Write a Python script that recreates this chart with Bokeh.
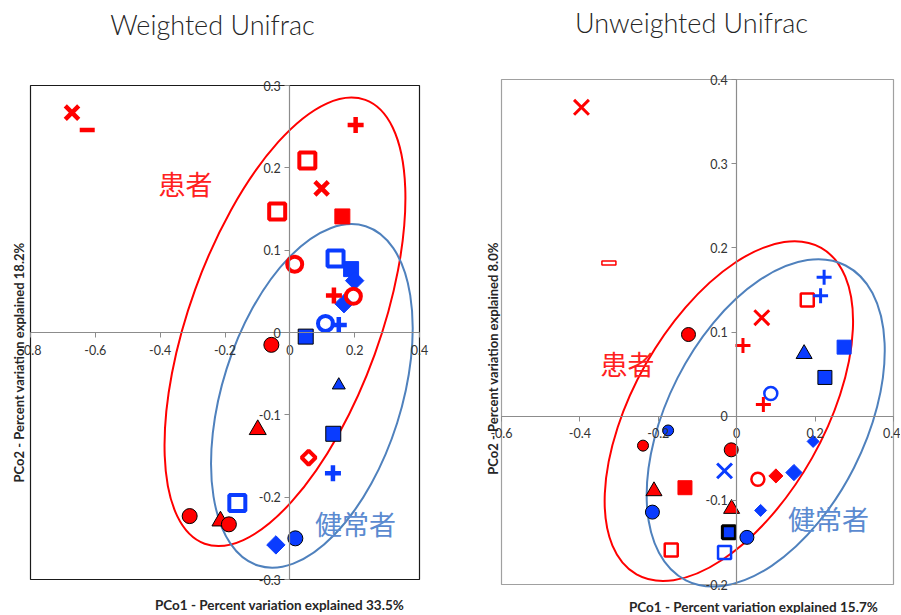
from math import pi
from bokeh.plotting import figure
from bokeh.layouts import row
from bokeh.models import (ColumnDataSource, Label, FixedTicker, LinearAxis,
                          Range1d, CustomJSTickFormatter)
from bokeh.embed import file_html
from bokeh.resources import INLINE

# ---------------- data: Weighted Unifrac ----------------
W_TITLE = "Weighted Unifrac"
W_XLABEL = "PCo1 - Percent variation explained 33.5%"
W_YLABEL = "PCo2 - Percent variation explained 18.2%"
W_XTICKS = [-0.8, -0.6, -0.4, -0.2, 0, 0.2, 0.4]
W_YTICKS = [-0.3, -0.2, -0.1, 0, 0.1, 0.2, 0.3]
W_X = [-0.672, -0.625, 0.203, 0.054, 0.098, -0.039, 0.162, 0.015, 0.141, 0.189,
       0.200, 0.136, 0.196, 0.167, 0.110, 0.151, 0.049, -0.057, 0.151, -0.099,
       0.134, 0.058, 0.133, -0.162, -0.309, -0.214, -0.188, -0.043, 0.017]
W_Y = [0.267, 0.246, 0.252, 0.209, 0.175, 0.147, 0.141, 0.083, 0.090, 0.077,
       0.063, 0.045, 0.044, 0.035, 0.011, 0.009, -0.005, -0.015, -0.064, -0.118,
       -0.123, -0.152, -0.171, -0.207, -0.223, -0.229, -0.233, -0.258, -0.250]
W_GROUP = ["患者", "患者", "患者", "患者", "患者", "患者", "患者", "患者", "健常者", "健常者",
           "健常者", "患者", "患者", "健常者", "健常者", "健常者", "健常者", "患者", "健常者", "患者",
           "健常者", "患者", "健常者", "健常者", "患者", "患者", "患者", "健常者", "健常者"]
W_SYMBOL = ["x", "dash", "cross", "square_open", "x", "square_open", "square", "circle_open",
            "square_open", "square", "diamond", "cross", "circle_open", "diamond", "circle_open",
            "cross", "square_edge", "circle_edge", "triangle_small", "triangle_edge",
            "square_edge", "diamond_open", "cross", "square_open", "circle_edge",
            "triangle_edge", "circle_edge", "diamond", "circle_edge"]
# group ellipses (centre in data units; axes in pixels; tilt in degrees)
W_ELL_GROUP = ["患者", "健常者"]
W_ELL_CX = [-0.015, 0.068]
W_ELL_CY = [0.013, -0.077]
W_ELL_W = [472, 356]
W_ELL_H = [191, 179]
W_ELL_ANGLE = [70.1, 72.4]

# ---------------- data: Unweighted Unifrac ----------------
U_TITLE = "Unweighted Unifrac"
U_XLABEL = "PCo1 - Percent variation explained 15.7%"
U_YLABEL = "PCo2 - Percent variation explained 8.0%"
U_XTICKS = [-0.6, -0.4, -0.2, 0, 0.2, 0.4]
U_YTICKS = [-0.2, -0.1, 0, 0.1, 0.2, 0.3, 0.4]
U_X = [-0.396, -0.326, 0.223, 0.214, 0.180, 0.064, -0.123, 0.016, 0.274, 0.172,
       0.225, 0.087, 0.068, -0.175, -0.239, -0.014, 0.195, -0.031, 0.054, 0.100,
       0.146, -0.132, -0.211, -0.013, 0.061, -0.215, -0.020, 0.026, -0.167, -0.031]
U_Y = [0.367, 0.182, 0.165, 0.143, 0.138, 0.117, 0.097, 0.084, 0.082, 0.074,
       0.046, 0.027, 0.014, -0.017, -0.035, -0.040, -0.030, -0.065, -0.075, -0.071,
       -0.067, -0.085, -0.089, -0.110, -0.112, -0.114, -0.138, -0.144, -0.159, -0.162]
U_GROUP = ["患者", "患者", "健常者", "健常者", "患者", "患者", "患者", "患者", "健常者", "健常者",
           "健常者", "健常者", "患者", "健常者", "患者", "患者", "健常者", "健常者", "患者", "患者",
           "健常者", "患者", "患者", "患者", "健常者", "健常者", "健常者", "健常者", "患者", "健常者"]
U_SYMBOL = ["x", "dash_open", "cross", "cross", "square_open", "x", "circle_edge", "cross",
            "square", "triangle_edge", "square_edge", "circle_open", "cross", "circle_small",
            "circle_small", "circle_edge", "diamond_small", "x", "circle_open", "diamond",
            "diamond_big", "square", "triangle_edge", "triangle_edge", "diamond_small",
            "circle_edge", "square_thick", "circle_edge", "square_open", "square_open"]
U_ELL_GROUP = ["患者", "健常者"]
U_ELL_CX = [-0.020, 0.074]
U_ELL_CY = [0.006, -0.008]
U_ELL_W = [375, 353]
U_ELL_H = [191, 198]
U_ELL_ANGLE = [60.5, 63.1]

# ---------------- styles ----------------
GROUP_COLOR = {"患者": "#FF0000", "健常者": "#0A3CFF"}
ELLIPSE_COLOR = {"患者": "#FF0000", "健常者": "#4F81BD"}
TEXT_COLOR = {"患者": "#FF2020", "健常者": "#5B8AD0"}
LATIN = "Lato"
TITLE_FONT = "'Lato Light', Lato"
CJK = "Noto Sans CJK JP"
DIAMOND = pi / 4

# symbol -> (marker, size, filled, edge colour or None for own colour, line width, angle)
W_STYLE = {
    "x": ("x", 19, False, None, 4.5, 0),
    "dash": ("dash", 15, False, None, 4.5, 0),
    "cross": ("cross", 16, False, None, 4.5, 0),
    "square_open": ("square", 16, False, None, 4, 0),
    "square": ("square", 15, True, None, 1, 0),
    "square_edge": ("square", 15, True, "black", 1, 0),
    "circle_open": ("circle", 15, False, None, 4, 0),
    "circle_edge": ("circle", 15, True, "black", 1, 0),
    "diamond": ("square", 13, True, None, 1, DIAMOND),
    "diamond_open": ("square", 10, False, None, 4, DIAMOND),
    "triangle_edge": ("triangle", 17, True, "black", 1, 0),
    "triangle_small": ("triangle", 13, True, "black", 1, 0),
}
U_STYLE = {
    "x": ("x", 21, False, None, 3, 0),
    "dash_open": ("dash_open", 0, False, None, 1.5, 0),
    "cross": ("cross", 15, False, None, 3, 0),
    "square_open": ("square", 13, False, None, 2.5, 0),
    "square": ("square", 14, True, None, 1, 0),
    "square_edge": ("square", 14, True, "black", 1, 0),
    "square_thick": ("square", 13, True, "black", 3, 0),
    "circle_open": ("circle", 13, False, None, 2.5, 0),
    "circle_edge": ("circle", 14, True, "black", 1, 0),
    "circle_small": ("circle", 11, True, "black", 1, 0),
    "diamond": ("square", 10, True, None, 1, DIAMOND),
    "diamond_big": ("square", 11.5, True, None, 1, DIAMOND),
    "diamond_small": ("square", 8.5, True, None, 1, DIAMOND),
    "triangle_edge": ("triangle", 16, True, "black", 1, 0),
}
DRAW_ORDER = ["dash", "dash_open", "square_open", "square", "square_edge", "square_thick",
              "triangle_edge", "triangle_small", "diamond", "diamond_big", "diamond_small",
              "diamond_open", "circle_edge", "circle_small", "circle_open", "x", "cross"]

H = 613  # canvas height in pixels


def make_panel(title, xlabel, ylabel, xticks, yticks, xs, ys, groups, symbols, styles,
               ell, width, box, frame_color, pos):
    # box = pixel edges (left, right, top, bottom) of the plot box inside the canvas
    bl, br, bt, bb = box
    ux = (xticks[-1] - xticks[0]) / (br - bl)
    uy = (yticks[-1] - yticks[0]) / (bb - bt)
    xr = Range1d(xticks[0] - bl * ux, xticks[-1] + (width - br) * ux)
    yr = Range1d(yticks[0] - (H - bb) * uy, yticks[-1] + bt * uy)
    p = figure(width=width, height=H, output_backend="svg", toolbar_location=None,
               x_range=xr, y_range=yr, x_axis_location=None, y_axis_location=None,
               min_border=0)
    p.xgrid.visible = False
    p.ygrid.visible = False
    p.outline_line_color = None
    p.background_fill_color = "white"

    # plot box
    p.quad(left=[xticks[0]], right=[xticks[-1]], bottom=[yticks[0]], top=[yticks[-1]],
           fill_color=None, line_color=frame_color, line_width=1.2)

    fmt = CustomJSTickFormatter(code="return Math.abs(tick) < 1e-9 ? '0' : tick.toFixed(1);")
    xa = LinearAxis(fixed_location=0, ticker=FixedTicker(ticks=xticks), formatter=fmt,
                    bounds=(xticks[0], xticks[-1]))
    ya = LinearAxis(fixed_location=0, ticker=FixedTicker(ticks=yticks), formatter=fmt,
                    bounds=(yticks[0], yticks[-1]))
    for ax in (xa, ya):
        ax.axis_line_color = "#8C8C8C"
        ax.axis_line_width = 1.2
        ax.major_tick_line_color = "#8C8C8C"
        ax.major_tick_in = 0
        ax.major_tick_out = 5
        ax.minor_tick_line_color = None
        ax.major_label_text_font = LATIN
        ax.major_label_text_font_size = "12.5px"
        ax.major_label_text_color = "#333333"
    xa.major_label_standoff = 7
    ya.major_label_standoff = 4
    p.add_layout(xa, "below")
    p.add_layout(ya, "left")

    # group ellipses
    ecx, ecy, ew, eh, ea, eg = ell
    p.ellipse(x=ecx, y=ecy, width=ew, height=eh, angle=ea, angle_units="deg",
              width_units="screen", height_units="screen", fill_color=None,
              line_color=[ELLIPSE_COLOR[g] for g in eg], line_width=2)

    # sample points
    for sym in DRAW_ORDER:
        if sym not in styles:
            continue
        marker, size, filled, edge, lw, ang = styles[sym]
        idx = [i for i, s in enumerate(symbols) if s == sym]
        if not idx:
            continue
        cols = [GROUP_COLOR[groups[i]] for i in idx]
        src = ColumnDataSource(dict(x=[xs[i] for i in idx], y=[ys[i] for i in idx], c=cols))
        if marker == "dash_open":
            p.rect(x="x", y="y", width=14, height=4, width_units="screen",
                   height_units="screen", fill_color="white", line_color="c",
                   line_width=lw, source=src)
            continue
        fill = "c" if filled else None
        line = edge if edge else "c"
        p.scatter(x="x", y="y", marker=marker, size=size, angle=ang, source=src,
                  fill_color=fill, line_color=line, line_width=lw)

    # texts (positions in canvas pixels, origin bottom-left)
    (tx, ty), (ylx, yly), (xlx, xly), (px_, py_), (hx, hy) = pos
    common = dict(x_units="screen", y_units="screen", text_align="center",
                  text_baseline="middle")
    p.add_layout(Label(x=tx, y=ty, text=title, text_font=TITLE_FONT, text_font_size="27px",
                       text_color="#262626", **common))
    p.add_layout(Label(x=ylx, y=yly, text=ylabel, angle=pi / 2, text_font=LATIN,
                       text_font_size="13px", text_font_style="bold",
                       text_color="#262626", **common))
    p.add_layout(Label(x=xlx, y=xly, text=xlabel, text_font=LATIN, text_font_size="13.5px",
                       text_font_style="bold", text_color="#262626", **common))
    p.add_layout(Label(x=px_, y=py_, text="患者", text_font=CJK, text_font_size="27px",
                       text_color=TEXT_COLOR["患者"], **common))
    p.add_layout(Label(x=hx, y=hy, text="健常者", text_font=CJK, text_font_size="27px",
                       text_color=TEXT_COLOR["健常者"], **common))
    return p


p1 = make_panel(W_TITLE, W_XLABEL, W_YLABEL, W_XTICKS, W_YTICKS, W_X, W_Y, W_GROUP, W_SYMBOL,
                W_STYLE, (W_ELL_CX, W_ELL_CY, W_ELL_W, W_ELL_H, W_ELL_ANGLE, W_ELL_GROUP),
                483, (30, 419, 85, 579), "#1A1A1A",
                ((212, 589), (18, 251), (279, 9), (185, 430), (355, 90)))
p2 = make_panel(U_TITLE, U_XLABEL, U_YLABEL, U_XTICKS, U_YTICKS, U_X, U_Y, U_GROUP, U_SYMBOL,
                U_STYLE, (U_ELL_CX, U_ELL_CY, U_ELL_W, U_ELL_H, U_ELL_ANGLE, U_ELL_GROUP),
                417, (18, 410, 79, 584), "#A0A0A0",
                ((208, 591), (9, 255), (270, 7), (144, 250), (345, 95)))

layout = row(p1, p2, spacing=0)
open("out.html", "w").write(file_html(layout, INLINE))
